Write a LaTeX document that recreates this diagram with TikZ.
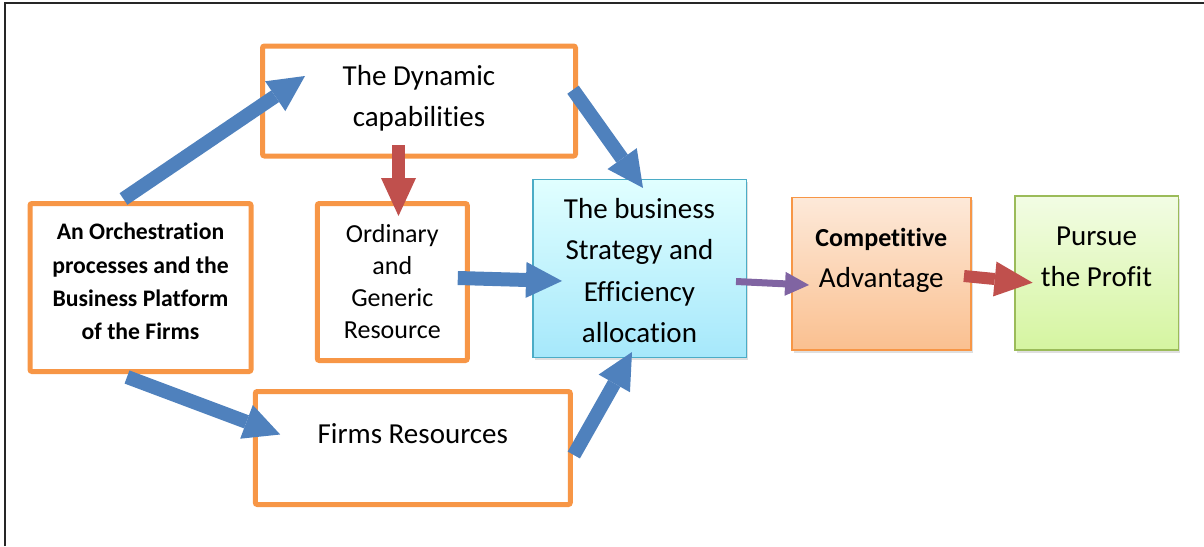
\documentclass[tikz,border=0pt]{standalone}
\usepackage{fontspec}
\setmainfont{Carlito}[Ligatures=NoCommon]
\usetikzlibrary{arrows.meta,calc,shadows,positioning}
\definecolor{boxorange}{HTML}{F79646}
\definecolor{arrblue}{HTML}{4F81BD}
\definecolor{arrred}{HTML}{C0504D}
\definecolor{arrpurple}{HTML}{8064A2}
\definecolor{cyanline}{HTML}{4BACC6}
\definecolor{greenline}{HTML}{9BBB59}
\newcommand{\bigtext}{\fontsize{29}{41}\selectfont}
\tikzset{
  obox/.style args={#1,#2}{
  draw=boxorange,
  line width=5pt,
  rounded corners=2pt,
  fill=white,
  minimum width=#1pt,
  minimum height=#2pt,
  inner sep=0pt,
  align=center,
  font=\bigtext
  },
  gbox/.style args={#1,#2}{
  line width=1.5pt,
  minimum width=#1pt,
  minimum height=#2pt,
  inner sep=0pt,
  align=center,
  font=\bigtext,
  drop shadow={shadow xshift=2pt,shadow yshift=-3pt,opacity=0.25}
  },
  boxtext/.style={align=center,font=\bigtext,yshift=#1},
  bluearr/.style={draw=arrblue,line width=14pt,-{Triangle[length=36pt,width=36pt,line width=0pt]}},
  redarr/.style={draw=arrred,line width=13pt,-{Triangle[length=38pt,width=35pt,line width=0pt]}},
  purplearr/.style={draw=arrpurple,line width=7pt,-{Triangle[length=24pt,width=24pt,line width=0pt]}},
  framel/.style={draw=black!85,line width=1.5pt}
}

\begin{document}
\begin{tikzpicture}[x=1pt,y=-1pt]
  \useasboundingbox (0,0) rectangle (1204,546);
  \draw[framel] (5,546) -- (5,3) -- (1204,3);

  \node[obox={221,168},label={[boxtext=6pt,font=\bfseries\fontsize{23.7}{33.3}\selectfont]center:An Orchestration\\processes and the\\Business Platform\\of the Firms}] (orch) at (140.5,287.5) {};
  \node[obox={313,110},label={[boxtext=2.5pt]center:The Dynamic\\capabilities}] (dyn) at (419,101) {};
  \node[obox={150,157},font=\fontsize{26}{32}\selectfont] (ord) at (392.3,282)
    {Ordinary\\and\\Generic\\Resource};
  \node[obox={315,113},label={[boxtext=14.5pt]center:Firms Resources}] (firms) at (412.8,448) {};

  \node[gbox={213.5,178},draw=cyanline,top color=cyan!12!white,bottom color={rgb,255:red,166;green,232;blue,251},
    label={[boxtext=-2pt,font=\fontsize{29}{41.5}\selectfont]center:The business\\Strategy and\\Efficiency\\allocation}] (biz) at (639.5,268.3) {};
  \node[gbox={179,152.5},draw=boxorange,top color={rgb,255:red,253;green,233;blue,217},bottom color={rgb,255:red,250;green,192;blue,144},
    label={[boxtext=13pt]center:{\bfseries\fontsize{26}{39}\selectfont Competitive}\\Advantage}] (comp) at (881.3,273.7) {};
  \node[gbox={163.5,154},draw=greenline,top color={rgb,255:red,242;green,252;blue,228},bottom color={rgb,255:red,213;green,245;blue,160},
    label={[boxtext=16pt]center:Pursue\\the Profit}] (prof) at (1096.5,273) {};

  \draw[bluearr] ($(orch.north)+(-17,-2)$) -- ($(dyn.west)+(45,-25)$);
  \draw[bluearr] ($(orch.south)+(-13.5,3)$) -- ($(firms.west)+(27.4,-13.5)$);
  \draw[redarr] ($(dyn.south)+(-20.5,-13.4)$) -- ($(ord.north)+(6.2,15)$);
  \draw[bluearr] ($(ord.east)+(-12,-4)$) -- ($(biz.west)+(30,12.7)$);
  \draw[bluearr] ($(dyn.east)+(-5,-11.3)$) -- ($(biz.north)+(3.5,9.4)$);
  \draw[bluearr] ($(firms.east)+(1,7)$) -- ($(biz.south)+(-7.5,-6)$);
  \draw[purplearr] ($(biz.east)+(-11,13.2)$) -- ($(comp.west)+(18,11.3)$);
  \draw[redarr,line width=12pt] ($(comp.east)+(-7.6,2.3)$) -- ($(prof.west)+(18.6,9.7)$);
\end{tikzpicture}
\end{document}
